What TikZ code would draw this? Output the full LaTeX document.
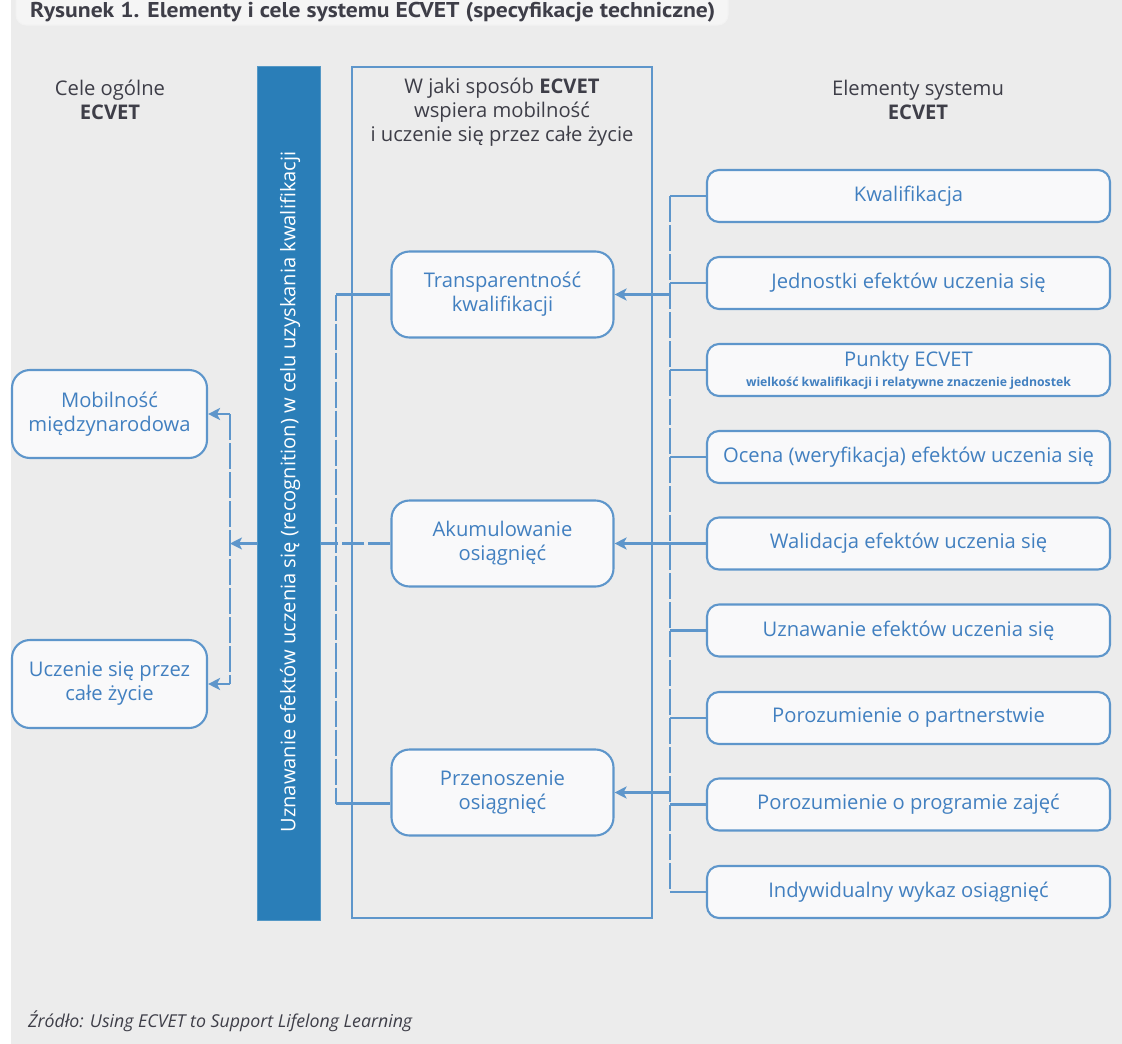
\documentclass[tikz,border=0pt]{standalone}
\usepackage{fontspec}
\setmainfont{Open Sans}
\newfontfamily\titlefont{PT Sans}
\usetikzlibrary{arrows.meta}
\definecolor{bgc}{RGB}{236,236,236}
\definecolor{tabc}{RGB}{245,245,245}
\definecolor{lc}{RGB}{94,150,203}
\definecolor{boxc}{RGB}{249,249,250}
\definecolor{txt}{RGB}{66,128,192}
\definecolor{headc}{RGB}{62,62,72}
\definecolor{barc}{RGB}{42,126,184}
\tikzset{
  bodyfont/.style={font=\fontsize{20.2}{24}\selectfont},
  rbox/.style={draw=lc, fill=boxc, line width=2.1pt, rounded corners=12pt,
    minimum width=403pt, minimum height=52pt, inner sep=0pt, text=txt, bodyfont, align=center},
  mbox/.style={draw=lc, fill=boxc, line width=2.1pt, rounded corners=18pt,
    minimum width=222pt, minimum height=86pt, inner sep=0pt, text=txt, bodyfont, align=center},
  lbox/.style={draw=lc, fill=boxc, line width=2.1pt, rounded corners=18pt,
    minimum width=195pt, minimum height=88pt, inner sep=0pt, text=txt, bodyfont, align=center},
  heading/.style={text=headc, bodyfont, align=center},
  conn/.style={draw=lc, line width=2.2pt},
  longdash/.style={dash pattern=on 26pt off 3pt},
  arr/.style={conn, -{Stealth[length=12pt,width=12pt,inset=3pt]}},
}
\begin{document}
\begin{tikzpicture}[x=1pt,y=-1pt]
\useasboundingbox (0,0) rectangle (1122,1044);
\fill[bgc] (11,0) rectangle (1122,1044);
\fill[white] (0,0) rectangle (11,1044);
% title tab
\draw[draw=white!90!gray, line width=1pt, fill=tabc, rounded corners=10pt] (16,-14) rectangle (728,25);
\node[anchor=west, text=headc, inner sep=0pt] (title) at (30,12.5)
  {\resizebox*{685pt}{20pt}{\titlefont\bfseries Rysunek 1. Elementy i cele systemu ECVET (specyfikacje techniczne)}};

% headings
\node[heading] (hleft) at (110,100) {Cele ogólne\\\textbf{ECVET}};
\node[heading] (hmid) at (502,112) {W jaki sposób \textbf{ECVET}\\wspiera mobilność\\i uczenie się przez całe życie};
\node[heading] (hright) at (918,100) {Elementy systemu\\\textbf{ECVET}};

% bar
\node[fill=barc, draw=barc!80!white, line width=0.8pt, minimum width=63pt, minimum height=854pt, inner sep=0pt] (bar) at (289,493) {};
\node[rotate=90, text=white, inner sep=0pt] (bartext) at (290,492)
  {\resizebox{681pt}{!}{\fontsize{19.5}{23}\selectfont Uznawanie efektów uczenia się (recognition) w celu uzyskania kwalifikacji}};

% middle frame
\node[draw=lc, line width=2.1pt, minimum width=300pt, minimum height=851pt, inner sep=0pt] (frame) at (502,492.5) {};

% right boxes
\node[rbox] (kw) at (908.5,196) {Kwalifikacja};
\node[rbox] (jed) at (908.5,283) {Jednostki efektów uczenia się};
\node[rbox] (pkt) at (908.5,370) {};
\node[text=txt, inner sep=0pt, bodyfont] (pkt1) at (908.5,361) {Punkty ECVET};
\node[text=txt, inner sep=0pt] (pkt2) at (908.5,383) {\resizebox{325pt}{!}{\fontsize{11}{12}\selectfont\bfseries wielkość kwalifikacji i relatywne znaczenie jednostek}};
\node[rbox] (oc) at (908.5,457) {Ocena (weryfikacja) efektów uczenia się};
\node[rbox] (wal) at (908.5,543.5) {Walidacja efektów uczenia się};
\node[rbox] (uzn) at (908.5,630.5) {Uznawanie efektów uczenia się};
\node[rbox] (part) at (908.5,718) {Porozumienie o partnerstwie};
\node[rbox] (prog) at (908.5,804.5) {Porozumienie o programie zajęć};
\node[rbox] (ind) at (908.5,892) {Indywidualny wykaz osiągnięć};

% middle boxes
\node[mbox] (trans) at (502.5,294.5) {Transparentność\\kwalifikacji};
\node[mbox] (akum) at (502.5,543.5) {Akumulowanie\\osiągnięć};
\node[mbox] (przen) at (502.5,792.5) {Przenoszenie\\osiągnięć};

% left boxes
\node[lbox] (mob) at (109.5,414) {Mobilność\\międzynarodowa};
\node[lbox] (ucz) at (109.5,684) {Uczenie się przez\\całe życie};

% footer
\node[anchor=west, text=headc, inner sep=0pt] (src) at (28,1021)
  {\resizebox{384pt}{!}{\fontsize{14}{16}\selectfont\itshape Źródło: Using ECVET to Support Lifelong Learning}};

% connector columns
\coordinate (bus) at (670,0);
\coordinate (lv) at (336,0);
\coordinate (lv2) at (230,0);

% bus
\draw[conn, longdash] (kw.west -| bus) -- (ind.west -| bus);
\foreach \n in {kw,jed,pkt,oc,uzn,part,prog,ind}
  \draw[conn] (\n.west -| bus) -- (\n.west);
\draw[arr] (trans.east -| bus) -- (trans.east);
\draw[arr] (wal.west) -- (akum.east);
\draw[arr] (przen.east -| bus) -- (przen.east);

% left of middle
\draw[conn] (trans.west) -- (trans.west -| lv);
\draw[conn, longdash] (trans.west -| lv) -- ([yshift=-11pt]przen.west -| lv);
\draw[conn] ([yshift=-11pt]przen.west -| lv) -- ([yshift=-11pt]przen.west);
\draw[conn, dash pattern=on 22pt off 4pt] (akum.west) -- (akum.west -| bar.east);
\draw[arr] (akum.west -| bar.west) -- (akum.west -| lv2);
\draw[conn, longdash] (mob.east -| lv2) -- (ucz.east -| lv2);
\draw[arr] (mob.east -| lv2) -- (mob.east);
\draw[arr] (ucz.east -| lv2) -- (ucz.east);
\end{tikzpicture}
\end{document}
